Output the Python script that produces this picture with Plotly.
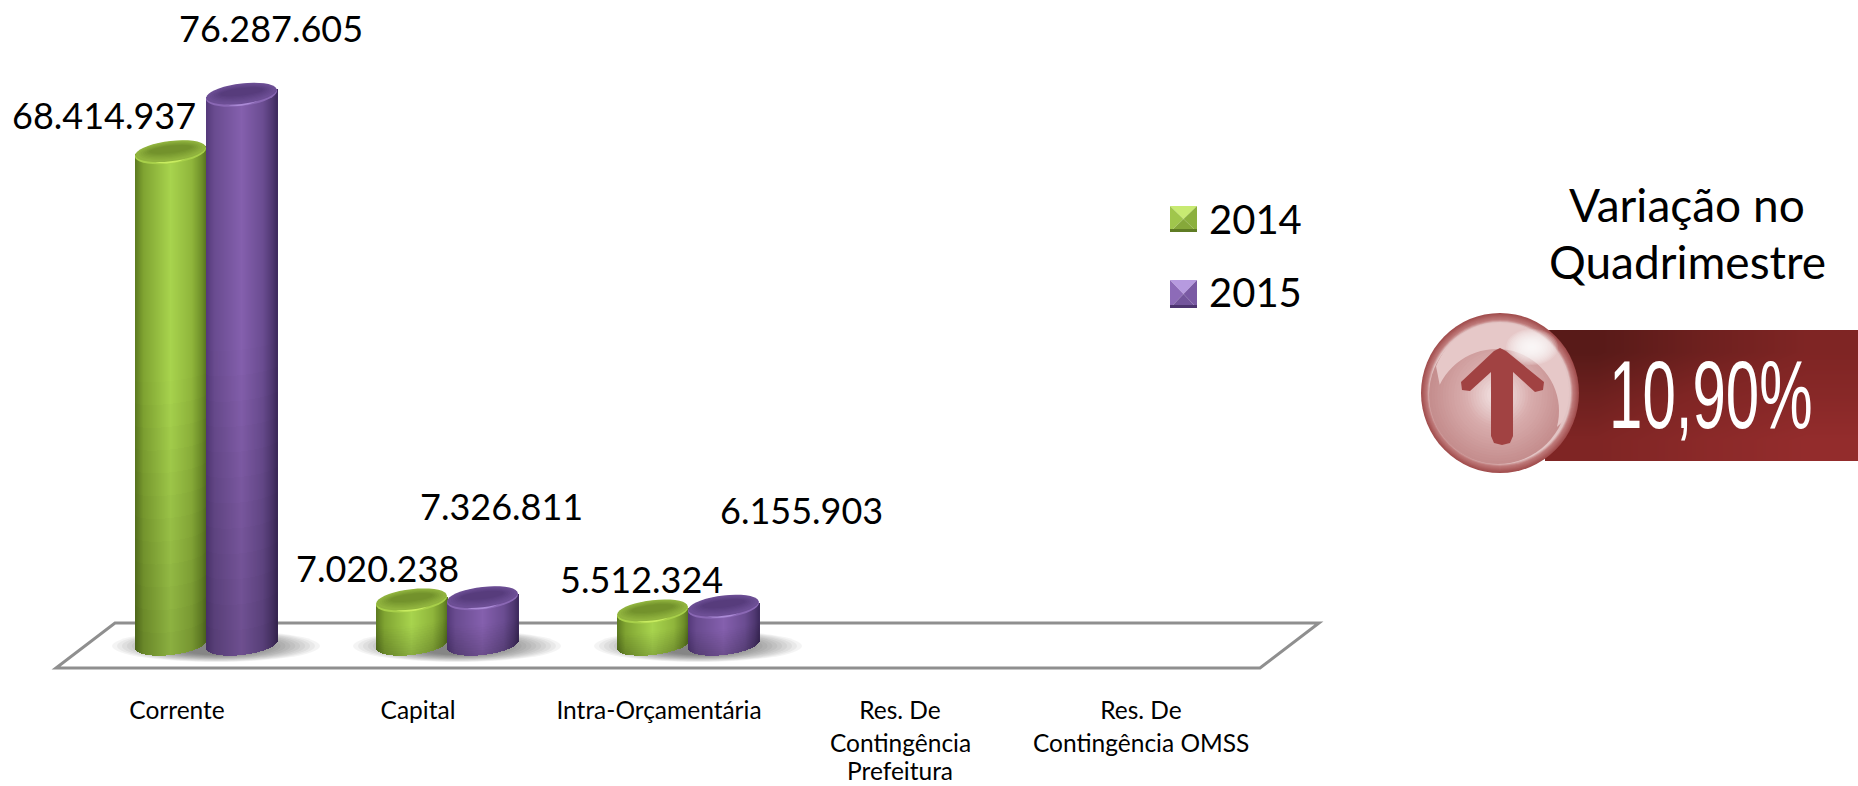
import math
import plotly.graph_objects as go

# ---------- data ----------
categories = ["Corrente", "Capital", "Intra-Orçamentária", "Res. De Contingência Prefeitura", "Res. De Contingência OMSS"]
tick_lines = [["Corrente"], ["Capital"], ["Intra-Orçamentária"], ["Res. De", "Contingência", "Prefeitura"], ["Res. De", "Contingência OMSS"]]
values_2014 = [68414937, 7020238, 5512324, 0, 0]
values_2015 = [76287605, 7326811, 6155903, 0, 0]
series_names = ["2014", "2015"]
variation_title = ["Variação no", "Quadrimestre"]
variation_value = "10,90%"

# ---------- layout constants ----------
W, H = 1858, 786
FONT = "Lato"
ZERO_PX = 652.0       # pixel row of value 0
PX_PER_UNIT = 7.3e-6  # pixels per value unit
CAT_PX = 241.0        # pixels per category
CAT0_PX = 206.0       # pixel column of first category
BAR_PX = 71.0
ELL_RY = 11.0
TILT = 4.0
FLOOR_PX = 8.0        # bar body starts this far above value 0
N_U, N_V = 71, 22
TICK_SHIFT = -29
EXTRA_LINE_ROWS = {1: 742.5, 2: 770}

def PX(x): return x / W
def PY(y): return 1 - y / H
def to_val(px_above_zero): return px_above_zero / PX_PER_UNIT
def hex2rgb(h): return [int(h[i:i + 2], 16) for i in (1, 3, 5)]
def ramp(stops, t):
    for (a, ca), (b, cb) in zip(stops, stops[1:]):
        if t <= b:
            f = (t - a) / (b - a)
            ca, cb = hex2rgb(ca), hex2rgb(cb)
            return [ca[i] + (cb[i] - ca[i]) * f for i in range(3)]
    return hex2rgb(stops[-1][1])
def rgb(c): return "rgb(%d,%d,%d)" % tuple(c)

STYLE = {
    "2014": dict(side=[(0, "#5c7a20"), (.12, "#80a432"), (.5, "#a8d44e"), (.8, "#90b63c"), (.94, "#6f9029"), (1, "#587420")],
                 top="#73922c", top_edge="#90b33e", rim="#a8d04a", rim_hi="#c8ec60"),
    "2015": dict(side=[(0, "#54397a"), (.12, "#6a4c90"), (.5, "#8560ae"), (.8, "#6b4d92"), (.94, "#503872"), (1, "#3f2b5e")],
                 top="#573c7c", top_edge="#6c4e94", rim="#8a68b4", rim_hi="#ab8ad6"),
}

def bar_trace(name, values, side_sign):
    st = STYLE[name]
    xs, ys, bases, widths, offsets, colors = [], [], [], [], [], []
    du = 1.0 / N_U
    w = BAR_PX / CAT_PX
    for cat, v in zip(categories, values):
        if not v:
            continue
        for i in range(N_U):
            u0 = i * du
            uc = u0 + du / 2
            tilt = -TILT * (2 * uc - 1)
            arc = ELL_RY * math.sqrt(max(0, 1 - (2 * uc - 1) ** 2))
            bottom = to_val(FLOOR_PX - arc - tilt)
            top = v - to_val(tilt)
            col = ramp(st["side"], uc)
            seg = (top - bottom) / N_V
            for j in range(N_V):
                h = (j + .5) / N_V
                f = 0.82 + 0.18 * min(1, h / .55)
                xs.append(cat)
                ys.append(seg * 1.1)
                bases.append(bottom + j * seg)
                widths.append(du * w * 1.3)
                offsets.append(w * (u0 - (1 if side_sign < 0 else 0)))
                colors.append(rgb([c * f for c in col]))
    return go.Bar(name=name, x=xs, y=ys, base=bases, width=widths, offset=offsets,
                  marker=dict(color=colors, line=dict(width=0)), hoverinfo="skip", showlegend=False)

fig = go.Figure()
fig.add_trace(bar_trace("2014", values_2014, -1))
fig.add_trace(bar_trace("2015", values_2015, 1))

# ---------- badge background (smooth diagonal gradient) ----------
fig.add_trace(go.Heatmap(
    x=[1545, 1650, 1755, 1858], y=[330, 374, 418, 461],
    z=[[0, .28, .5], [.28, .55, .72], [.5, .78, 1]], zsmooth="best", showscale=False, hoverinfo="skip",
    colorscale=[[0, "#581a18"], [.5, "#7f2524"], [1, "#932c2c"]], xaxis="x2", yaxis="y2"))

shapes = []
def paper_path(pts, fill, layer="above", opacity=1, close=True, line=None):
    d = "M" + " L".join(f"{PX(x):.5f},{PY(y):.5f}" for x, y in pts) + (" Z" if close else "")
    shapes.append(dict(type="path", path=d, xref="paper", yref="paper", fillcolor=fill if close else "rgba(0,0,0,0)",
                       opacity=opacity, layer=layer, line=line or dict(width=0)))
def paper_ellipse(cx, cy, rx, ry, fill, layer="above", opacity=1):
    shapes.append(dict(type="circle", xref="paper", yref="paper", x0=PX(cx - rx), x1=PX(cx + rx),
                       y0=PY(cy + ry), y1=PY(cy - ry), fillcolor=fill, opacity=opacity, layer=layer, line=dict(width=0)))

# ---------- floor ----------
paper_path([(56, 668), (1260, 668), (1319, 623), (115, 623)], "#ffffff", layer="below",
           line=dict(color="#8f8f8f", width=3))
for i in range(3):
    cx = CAT0_PX + CAT_PX * i + 10
    for k in range(14):
        t = k / 13
        paper_ellipse(cx, 646, 104 - 64 * t, 16 - 7 * t, "#000000", layer="below", opacity=.042)

# ---------- cylinder tops (in data coordinates) ----------
def top_ellipse(cat_idx, side, value, rx_f, ry_px, dy_px, fill):
    cx = cat_idx + side * BAR_PX / CAT_PX / 2
    rx = BAR_PX / CAT_PX / 2 * rx_f
    pts = []
    for a in range(0, 360, 10):
        ex, ey = math.cos(math.radians(a)), math.sin(math.radians(a))
        px_up = ey * ry_px + TILT * ex * rx_f + dy_px
        pts.append((cx + rx * ex, value + to_val(px_up)))
    d = "M" + " L".join(f"{x:.5f},{y:.1f}" for x, y in pts) + " Z"
    shapes.append(dict(type="path", path=d, xref="x", yref="y", fillcolor=fill, layer="above", line=dict(width=0)))

for name, vals, side in ((series_names[0], values_2014, -1), (series_names[1], values_2015, 1)):
    st = STYLE[name]
    for i, v in enumerate(vals):
        if not v:
            continue
        top_ellipse(i, side, v, 1.0, ELL_RY, 0, st["rim"])
        top_ellipse(i, side, v, .62, ELL_RY * .93, -.3, st["rim_hi"])
        top_ellipse(i, side, v, .99, ELL_RY - .8, 1.4, st["top_edge"])
        for k in range(6):
            t = (k + 1) / 6
            c = ramp([(0, st["top_edge"]), (1, st["top"])], t)
            top_ellipse(i, side, v, .95 - .35 * t, (ELL_RY - 1.5) * (1 - .62 * t), 1.8 + 1.4 * t, rgb(c))

# ---------- legend ----------
LEG_COL = {"2014": ("#c8ea72", "#a0c64c", "#8cb03e", "#86a83a", "#5f7c24"),
           "2015": ("#b69adf", "#8d6bb8", "#7a5aa4", "#73559c", "#4d3570")}
for name, (y0, y1) in zip(series_names, ((206, 232), (280, 308))):
    x0, x1 = 1170, 1197
    cx, cy = (x0 + x1) / 2, (y0 + y1) / 2
    t, l, r, b, edge = LEG_COL[name]
    paper_path([(x0, y0), (x1, y0), (cx, cy)], t)
    paper_path([(x0, y0), (cx, cy), (x0, y1)], l)
    paper_path([(x1, y0), (cx, cy), (x1, y1)], r)
    paper_path([(x0, y1), (cx, cy), (x1, y1)], b)
    paper_path([(x0, y1 - 3), (x1, y1 - 3), (x1, y1), (x0, y1)], edge)

# ---------- badge sphere ----------
BX, BY = 1500, 393
for k in range(10):
    t = k / 9
    c = ramp([(0, "#a24e4e"), (.7, "#c07c7c"), (1, "#e2c4c4")], t)
    paper_ellipse(BX, BY, 79 - 8 * t, 80 - 9 * t, rgb(c))
for k in range(24):
    t = k / 23
    c = ramp([(0, "#c58e8e"), (.55, "#d9adad"), (1, "#f2e2e2")], t)
    paper_ellipse(BX - 2, BY + 2, 69 * (1 - t * .92), 69 * (1 - t * .92), rgb(c))
# gloss cap on the upper part: outer arc of the disc, lower edge a wider circle arc
cap = []
for a in range(-158, 30, 4):
    cap.append((BX + 69 * math.cos(math.radians(a)), BY - 1 + 69 * math.sin(math.radians(a))))
for a in range(15, -160, -5):
    cap.append((BX - 3 + 62 * math.cos(math.radians(a)) * (1 if a > -90 else 1.02),
                BY + 18 + 62 * math.sin(math.radians(a))))
paper_path(cap, "#e6c8c8")
for k in range(16):
    t = k / 15
    paper_ellipse(1532, 347, 26 * (1 - t * .9), 18 * (1 - t * .9), "#ffffff", opacity=.13)
# arrow
arrow = [(1500, 348), (1506, 351), (1544, 382), (1543, 390), (1535, 392), (1513, 372), (1513, 436), (1510, 443),
         (1502, 445), (1494, 443), (1491, 436), (1491, 372), (1470, 391), (1462, 390), (1461, 382), (1494, 351)]
paper_path(arrow, "#a14242")

# ---------- annotations ----------
annotations = []
def text(x, y, s, size, color="#000000", font=FONT, anchor="center", **kw):
    annotations.append(dict(x=x, y=y, text=s, showarrow=False, xref=kw.pop("xref", "paper"), yref=kw.pop("yref", "paper"),
                            xanchor=anchor, yanchor="middle", font=dict(family=font, size=size, color=color), **kw))

# value labels: placed around each bar head, offsets in pixels
LABEL_SHIFT_2014 = [(-102, 38), (-70, 33), (-47, 33)]
LABEL_SHIFT_2015 = [(65, 67), (54, 93), (113, 97)]
for vals, shifts in ((values_2014, LABEL_SHIFT_2014), (values_2015, LABEL_SHIFT_2015)):
    for cat, v, (dx, dy) in zip(categories, vals, shifts):
        text(cat, v, f"{v:,}".replace(",", "."), 36, xref="x", yref="y", xshift=dx, yshift=dy)

# extra lines of the multi-line category labels
for cat, lines in zip(categories, tick_lines):
    for n, line in enumerate(lines[1:], start=1):
        text(cat, PY(EXTRA_LINE_ROWS[n]), line, 24.5, xref="x", xshift=TICK_SHIFT)

text(PX(1207), PY(219), series_names[0], 40, anchor="left")
text(PX(1207), PY(292), series_names[1], 40, anchor="left")
text(PX(1687), PY(204), variation_title[0], 46)
text(PX(1687), PY(262), variation_title[1], 46)
text(PX(1711), PY(394), variation_value, 60, color="#ffffff", font="Liberation Sans")

r0 = -CAT0_PX / CAT_PX
fig.update_layout(
    width=W, height=H, margin=dict(l=0, r=0, t=0, b=0), autosize=False,
    paper_bgcolor="#ffffff", plot_bgcolor="rgba(0,0,0,0)", barmode="overlay", showlegend=False,
    bargap=0,
    font=dict(family=FONT, color="#000000"),
    xaxis=dict(type="category", categoryorder="array", categoryarray=categories, range=[r0, r0 + W / CAT_PX],
               domain=[0, 1], anchor="free", position=PY(693), tickmode="array", tickvals=categories,
               ticktext=[l[0] for l in tick_lines], ticks="", showline=False, showgrid=False, zeroline=False,
               tickfont=dict(family=FONT, size=24.5, color="#000000"), ticklabelshift=TICK_SHIFT, tickangle=0, automargin=False),
    yaxis=dict(range=[-(H - ZERO_PX) / PX_PER_UNIT, ZERO_PX / PX_PER_UNIT], domain=[0, 1], visible=False, fixedrange=True),
    xaxis2=dict(range=[0, W], domain=[0, 1], overlaying="x", visible=False, anchor="y2"),
    yaxis2=dict(range=[H, 0], domain=[0, 1], overlaying="y", visible=False, anchor="x2"),
    shapes=shapes, annotations=annotations,
)
# remove the page's default body margin; stretch the tall condensed badge figure vertically
POST = """
document.body.style.margin='0';
document.querySelectorAll('.annotation').forEach(function(a){
  if(a.textContent.trim()==='%s'){
    var cy=394, g=a.querySelector('.annotation-text-g');
    g.setAttribute('transform','translate(0,'+cy+') scale(1,1.6) translate(0,'+(-cy)+')');
  }
});
""" % variation_value
fig.write_html("out.html", config=dict(displayModeBar=False, responsive=False), post_script=POST)
